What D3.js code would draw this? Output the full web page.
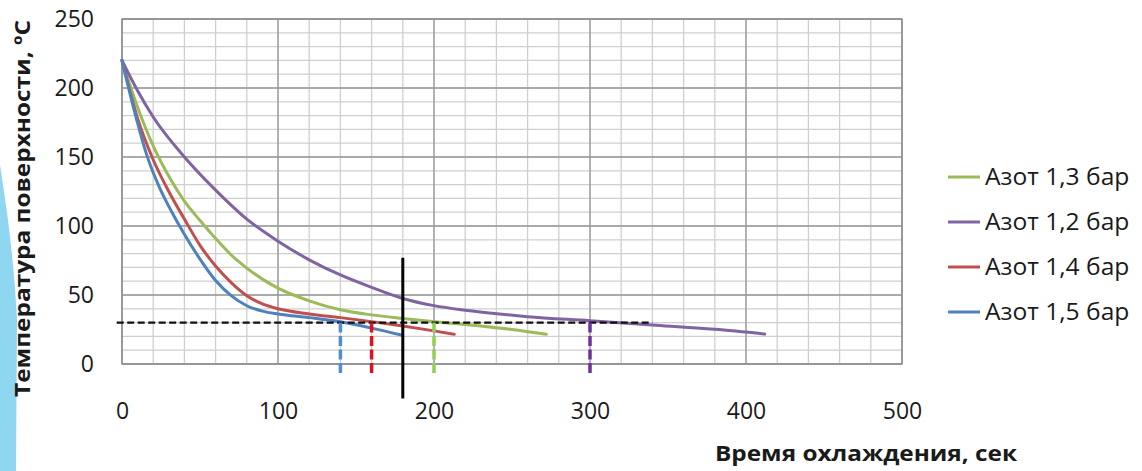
<!DOCTYPE html>
<html>
<head>
<meta charset="utf-8">
<script src="https://cdn.jsdelivr.net/npm/d3@7"></script>
<style>
  html, body { margin: 0; padding: 0; background: #fff; }
  svg { display: block; }
  text { font-family: "Open Sans", "DejaVu Sans", sans-serif; fill: #1a1a1a; }
</style>
</head>
<body>
<svg id="chart" width="1142" height="471"></svg>
<script>
// Surface temperature during cooling with nitrogen at different pressures
const seriesNames = ["Азот 1,3 бар", "Азот 1,2 бар", "Азот 1,4 бар", "Азот 1,5 бар"];
const seriesColors = ["#9bbb59", "#8064a2", "#c0504d", "#4f81bd"];

const timeGreen  = [0, 10, 20, 30, 40, 50, 60, 70, 80, 90, 100, 110, 120, 140, 160, 180, 200, 230, 250, 272];
const tempGreen  = [220, 186, 158, 136, 118, 104, 91, 79, 69.5, 61.5, 55, 50, 45.8, 39.3, 35.6, 33, 30.7, 27.5, 25, 21.5];

const timePurple = [0, 10, 20, 40, 60, 80, 100, 120, 140, 160, 180, 200, 220, 242, 260, 300, 340, 380, 412];
const tempPurple = [220, 198, 179, 150, 126, 105, 89, 75.5, 64.5, 55.5, 47.5, 42.3, 39, 36.2, 34.3, 31.4, 28.3, 25.1, 21.7];

const timeRed    = [0, 10, 20, 30, 40, 50, 60, 70, 80, 90, 100, 120, 140, 160, 180, 200, 213];
const tempRed    = [220, 178, 148, 125, 105, 86, 71, 59, 49.5, 43.5, 40, 36.3, 33.6, 30.7, 27.5, 24, 21.5];

const timeBlue   = [0, 8, 16, 24, 32, 40, 50, 60, 70, 80, 90, 100, 120, 140, 160, 179];
const tempBlue   = [220, 183, 151, 128, 110, 94, 76, 60.5, 49.5, 42.2, 38.3, 36.2, 33.6, 30.6, 26, 21];

// Target temperature and the times each regime reaches it
const targetTemp = 30;
const targetLineEnd = 340;
const reachTimes = [200, 300, 160, 140];          // same order as seriesNames
const reachColors = ["#92d050", "#7030a0", "#e01020", "#4f8fd0"];
const markerTime = 180;
const markerTop = 77;
const markerBottom = -25;
const dropBottom = -6.5;

const xTicks = [0, 100, 200, 300, 400, 500];
const yTicks = [0, 50, 100, 150, 200, 250];

const xTitle = "Время охлаждения, сек";
const yTitle = "Температура поверхности, ºC";

const series = [
  { t: timeGreen, v: tempGreen },
  { t: timePurple, v: tempPurple },
  { t: timeRed, v: tempRed },
  { t: timeBlue, v: tempBlue }
].map((s, i) => ({
  name: seriesNames[i],
  color: seriesColors[i],
  points: s.t.map((t, k) => [t, s.v[k]])
}));

const svg = d3.select("#chart");
const x = d3.scaleLinear().domain([0, 500]).range([122, 902]);
const y = d3.scaleLinear().domain([0, 250]).range([364, 19]);
const [x0, x1] = x.range();
const [y0, y1] = y.range();

svg.append("rect").attr("width", 1142).attr("height", 471).attr("fill", "#fff");

// light decorative band at the left edge
svg.append("path")
  .attr("d", "M0,165 C7,210 14,260 17,320 L16,471 L0,471 Z")
  .attr("fill", "#8fd6f1");

// grid: minor then major lines
const grid = svg.append("g");
grid.selectAll("line.vminor").data(d3.range(0, 501, 20)).join("line")
  .attr("x1", d => x(d)).attr("x2", d => x(d)).attr("y1", y1).attr("y2", y0)
  .attr("stroke", "#cfcfcf").attr("stroke-width", 1.3);
grid.selectAll("line.hminor").data(d3.range(0, 251, 10)).join("line")
  .attr("x1", x0).attr("x2", x1).attr("y1", d => y(d)).attr("y2", d => y(d))
  .attr("stroke", "#cfcfcf").attr("stroke-width", 1.3);
grid.selectAll("line.vmajor").data(xTicks).join("line")
  .attr("x1", d => x(d)).attr("x2", d => x(d)).attr("y1", y1).attr("y2", y0)
  .attr("stroke", "#9a9a9a").attr("stroke-width", 1.3);
grid.selectAll("line.hmajor").data(yTicks).join("line")
  .attr("x1", x0).attr("x2", x1).attr("y1", d => y(d)).attr("y2", d => y(d))
  .attr("stroke", "#9a9a9a").attr("stroke-width", 1.3);
svg.append("rect")
  .attr("x", x0).attr("y", y1).attr("width", x1 - x0).attr("height", y0 - y1)
  .attr("fill", "none").attr("stroke", "#8c8c8c").attr("stroke-width", 1.3);

// axes (labels only)
const yAxis = svg.append("g").attr("transform", `translate(${x0},0)`)
  .call(d3.axisLeft(y).tickValues(yTicks).tickSize(0).tickPadding(28));
const xAxis = svg.append("g").attr("transform", `translate(0,${y0})`)
  .call(d3.axisBottom(x).tickValues(xTicks).tickSize(0));
[yAxis, xAxis].forEach(g => {
  g.select(".domain").remove();
  g.selectAll("text").attr("font-size", 23).attr("font-family", "'Open Sans', sans-serif").attr("fill", "#1a1a1a");
});
xAxis.selectAll("text").attr("y", 47).attr("dy", "0.35em");

// cooling curves
const line = d3.line().x(d => x(d[0])).y(d => y(d[1])).curve(d3.curveMonotoneX);
svg.append("g").selectAll("path").data(series).join("path")
  .attr("d", d => line(d.points))
  .attr("fill", "none").attr("stroke", d => d.color)
  .attr("stroke-width", 3).attr("stroke-linejoin", "round").attr("stroke-linecap", "round");

// target temperature line
svg.append("line")
  .attr("x1", x(-3.4)).attr("x2", x(targetLineEnd))
  .attr("y1", y(targetTemp)).attr("y2", y(targetTemp))
  .attr("stroke", "#111").attr("stroke-width", 2.2).attr("stroke-dasharray", "7,3.5");

// drop lines from the target temperature
svg.append("g").selectAll("line").data(reachTimes).join("line")
  .attr("x1", d => x(d)).attr("x2", d => x(d))
  .attr("y1", y(targetTemp)).attr("y2", y(dropBottom))
  .attr("stroke", (d, i) => reachColors[i]).attr("stroke-width", 3.5)
  .attr("stroke-dasharray", "10,3.5");

// marker line
svg.append("line")
  .attr("x1", x(markerTime)).attr("x2", x(markerTime))
  .attr("y1", y(markerTop)).attr("y2", y(markerBottom))
  .attr("stroke", "#000").attr("stroke-width", 3);

// axis titles
svg.append("text")
  .attr("transform", `translate(30,${(20 + 397) / 2}) rotate(-90)`)
  .attr("text-anchor", "middle")
  .attr("font-size", 21).attr("font-weight", "bold")
  .attr("textLength", 377).attr("lengthAdjust", "spacingAndGlyphs")
  .text(yTitle);
svg.append("text")
  .attr("x", 866).attr("y", 461)
  .attr("text-anchor", "middle")
  .attr("font-size", 21).attr("font-weight", "bold")
  .attr("textLength", 302).attr("lengthAdjust", "spacingAndGlyphs")
  .text(xTitle);

// legend
const legend = svg.append("g").selectAll("g").data(series).join("g")
  .attr("transform", (d, i) => `translate(948,${177 + i * 45})`);
legend.append("line")
  .attr("x1", 0).attr("x2", 32).attr("y1", 0).attr("y2", 0)
  .attr("stroke", d => d.color).attr("stroke-width", 3);
legend.append("text")
  .attr("transform", "translate(37,0) scale(1.07,1)")
  .attr("dy", "0.35em")
  .attr("font-size", 23)
  .text(d => d.name);
</script>
</body>
</html>
